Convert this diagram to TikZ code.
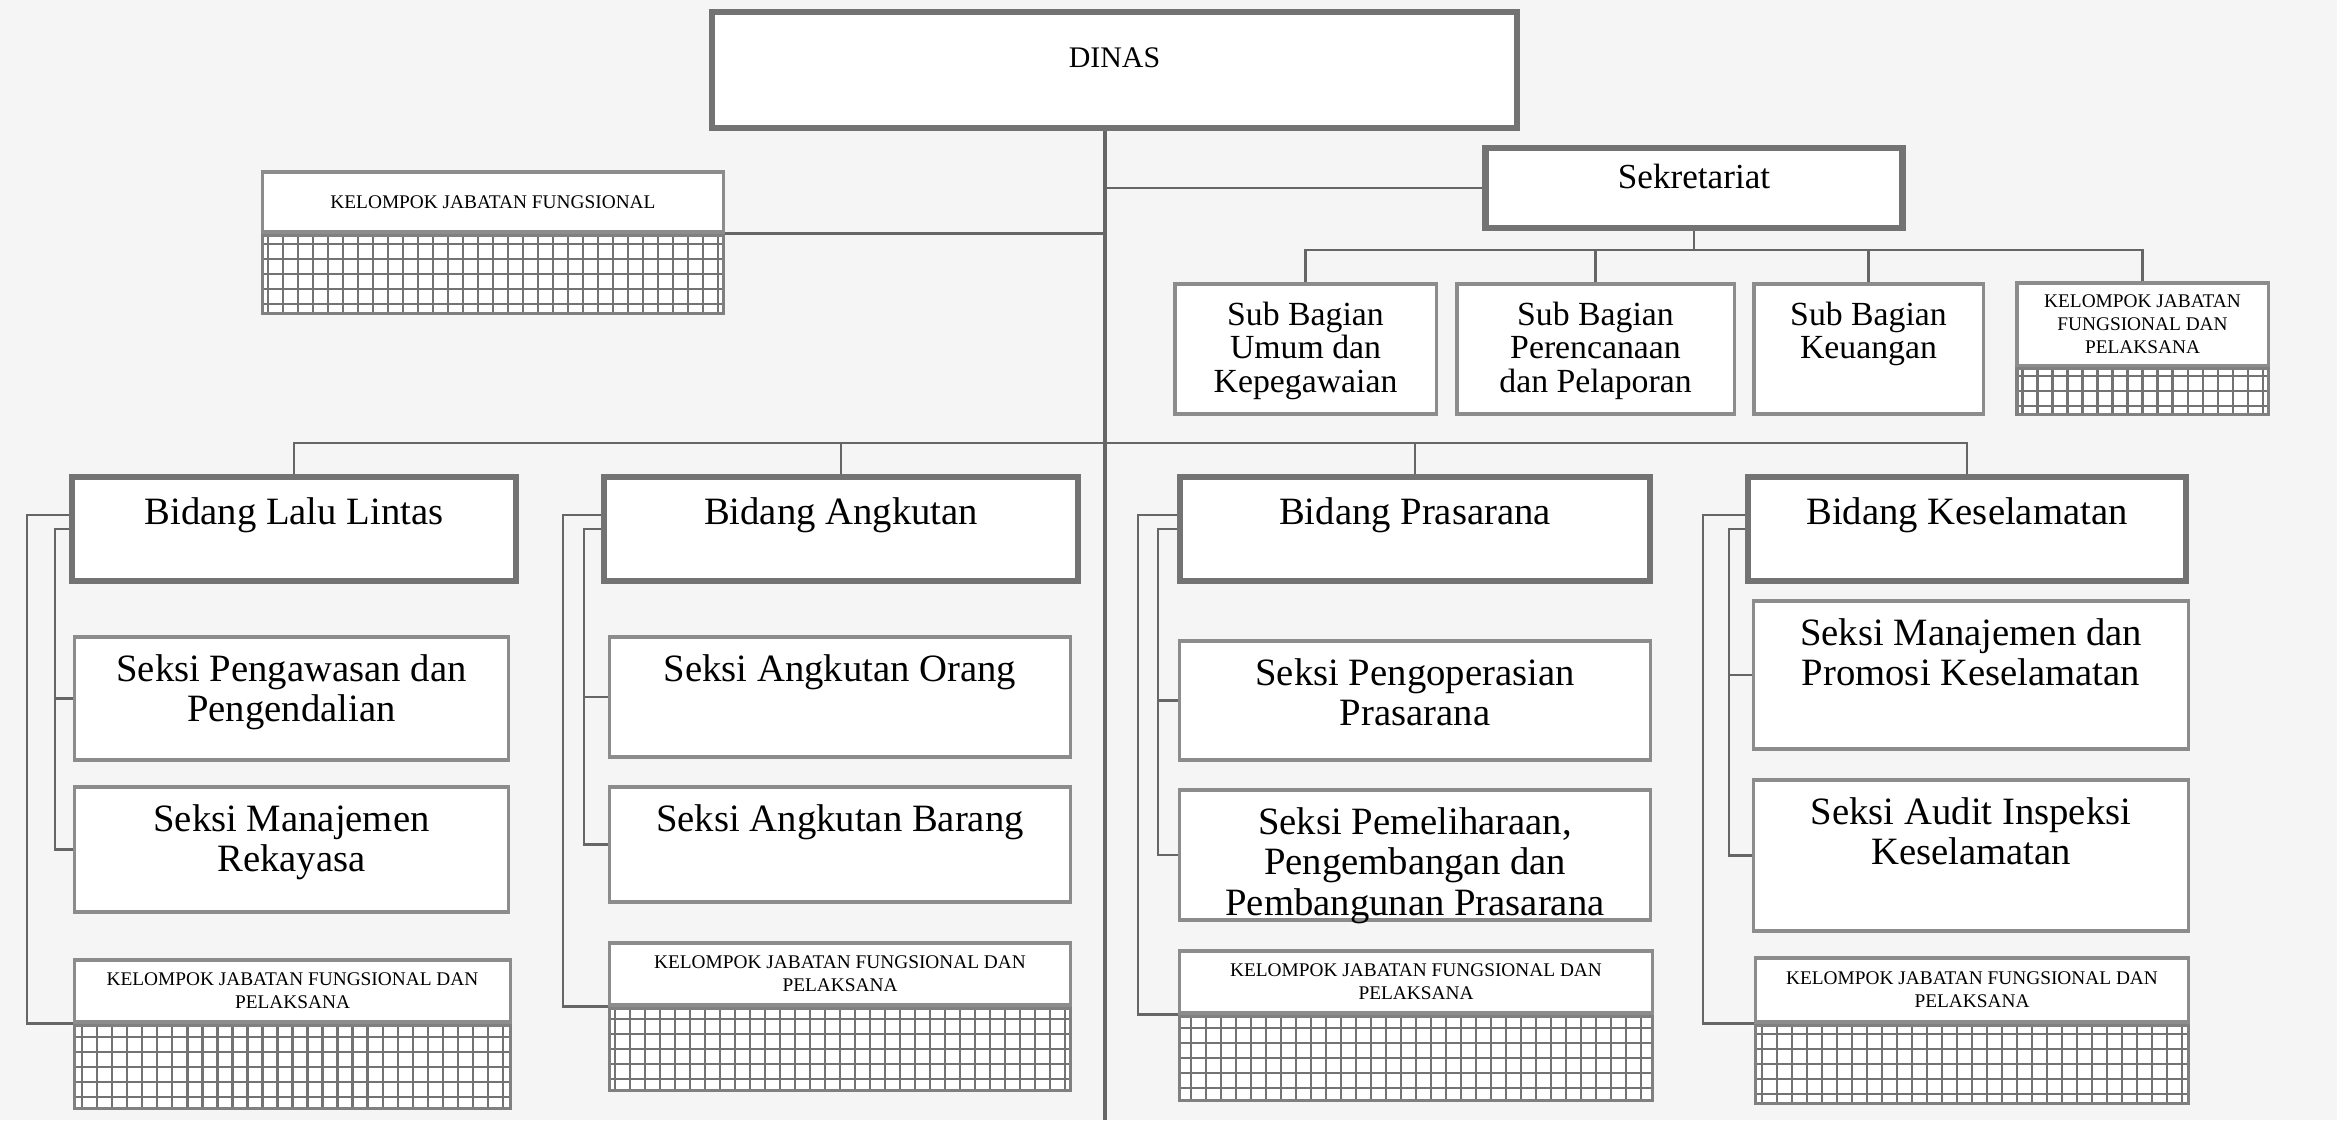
\documentclass[tikz,border=0pt]{standalone}
\usepackage{fontspec}
\setmainfont{Liberation Serif}
\tikzset{
  thickbox/.style={draw=black!55, line width=1.8pt, fill=white},
  thinbox/.style={draw=black!45, line width=0.9pt, fill=white},
  gridbox/.style={draw=black!50, line width=0.9pt, fill=white, anchor=north,
    path picture={\draw[black!55, line width=0.6pt] (path picture bounding box.south west) grid[step=0.15cm] (path picture bounding box.north east);}},
  link/.style={draw=black!60, line width=0.7pt},
  toptext/.style={anchor=north, inner sep=0pt, align=center},
  dinastext/.style={toptext, font=\fontsize{8.5}{9}\selectfont, yshift=-11pt},
  sekrtext/.style={toptext, font=\fontsize{10}{10.5}\selectfont, yshift=-5.2pt},
  subtext/.style={toptext, font=\fontsize{9.6}{9.6}\selectfont, yshift=-5.3pt},
  bidangtext/.style={toptext, font=\fontsize{11}{11.5}\selectfont, yshift=-6.6pt},
  seksitext/.style={toptext, font=\fontsize{11}{11.5}\selectfont, yshift=-5.2pt},
  kjftext/.style={align=center, font=\fontsize{5.5}{6.5}\selectfont},
}
\begin{document}
\begin{tikzpicture}[x=0.01cm,y=-0.01cm]
\fill[black!4] (0,0) rectangle (2337,1120);
\useasboundingbox (0,0) rectangle (2337,1120);

% top level
\node[thickbox, minimum width=8.05cm, minimum height=1.16cm, label={[dinastext]north:DINAS}] (dinas) at (1114.5,70) {};
\node[thickbox, minimum width=4.17cm, minimum height=0.80cm, label={[sekrtext]north:Sekretariat}] (sekr) at (1694,188) {};
\node[thinbox, kjftext, minimum width=4.60cm, minimum height=0.60cm] (kjfa) at (493,202) {KELOMPOK JABATAN FUNGSIONAL};
\node[gridbox, minimum width=4.60cm, minimum height=0.78cm] (ga) at (kjfa.south) {};

% sub bagian
\node[thinbox, minimum width=2.61cm, minimum height=1.30cm, label={[subtext]north:{Sub Bagian\\Umum dan\\Kepegawaian}}] (sbu) at (1305.5,349) {};
\node[thinbox, minimum width=2.77cm, minimum height=1.30cm, label={[subtext]north:{Sub Bagian\\Perencanaan\\dan Pelaporan}}] (sbp) at (1595.5,349) {};
\node[thinbox, minimum width=2.29cm, minimum height=1.30cm, label={[subtext]north:{Sub Bagian\\Keuangan}}] (sbk) at (1868.5,349) {};
\node[thinbox, kjftext, minimum width=2.51cm, minimum height=0.82cm] (kjfb) at (2142.5,324) {KELOMPOK JABATAN\\FUNGSIONAL DAN\\PELAKSANA};
\node[gridbox, minimum width=2.51cm, minimum height=0.46cm] (gb) at (kjfb.south) {};

% bidang
\node[thickbox, minimum width=4.44cm, minimum height=1.04cm, label={[bidangtext]north:Bidang Lalu Lintas}] (ll) at (294,529) {};
\node[thickbox, minimum width=4.74cm, minimum height=1.04cm, label={[bidangtext]north:Bidang Angkutan}] (ang) at (841,529) {};
\node[thickbox, minimum width=4.70cm, minimum height=1.04cm, label={[bidangtext]north:Bidang Prasarana}] (pra) at (1415,529) {};
\node[thickbox, minimum width=4.38cm, minimum height=1.04cm, label={[bidangtext]north:Bidang Keselamatan}] (kes) at (1967,529) {};

% seksi
\node[thinbox, minimum width=4.33cm, minimum height=1.23cm, label={[seksitext]north:{Seksi Pengawasan dan\\Pengendalian}}] (s11) at (291.5,698.5) {};
\node[thinbox, minimum width=4.33cm, minimum height=1.25cm, label={[seksitext]north:{Seksi Manajemen\\Rekayasa}}] (s12) at (291.5,849.5) {};
\node[thinbox, minimum width=4.60cm, minimum height=1.20cm, label={[seksitext]north:{Seksi Angkutan Orang}}] (s21) at (840,697) {};
\node[thinbox, minimum width=4.60cm, minimum height=1.15cm, label={[seksitext]north:{Seksi Angkutan Barang}}] (s22) at (840,844.5) {};
\node[thinbox, minimum width=4.70cm, minimum height=1.19cm, label={[seksitext]north:{Seksi Pengoperasian\\Prasarana}}] (s31) at (1415,700.5) {};
\node[thinbox, minimum width=4.70cm, minimum height=1.30cm, label={[seksitext]north:{Seksi Pemeliharaan,\\Pengembangan dan\\Pembangunan Prasarana}}] (s32) at (1415,855) {};
\node[thinbox, minimum width=4.34cm, minimum height=1.48cm, label={[seksitext]north:{Seksi Manajemen dan\\Promosi Keselamatan}}] (s41) at (1971,675) {};
\node[thinbox, minimum width=4.34cm, minimum height=1.51cm, label={[seksitext]north:{Seksi Audit Inspeksi\\Keselamatan}}] (s42) at (1971,855.5) {};

% kelompok jabatan fungsional per bidang
\node[thinbox, kjftext, minimum width=4.35cm, minimum height=0.62cm] (kjf1) at (292.5,991) {KELOMPOK JABATAN FUNGSIONAL DAN\\PELAKSANA};
\node[gridbox, minimum width=4.35cm, minimum height=0.83cm] (g1) at (kjf1.south) {};
\node[thinbox, kjftext, minimum width=4.60cm, minimum height=0.62cm] (kjf2) at (840,974) {KELOMPOK JABATAN FUNGSIONAL DAN\\PELAKSANA};
\node[gridbox, minimum width=4.60cm, minimum height=0.82cm] (g2) at (kjf2.south) {};
\node[thinbox, kjftext, minimum width=4.72cm, minimum height=0.62cm] (kjf3) at (1416,982) {KELOMPOK JABATAN FUNGSIONAL DAN\\PELAKSANA};
\node[gridbox, minimum width=4.72cm, minimum height=0.84cm] (g3) at (kjf3.south) {};
\node[thinbox, kjftext, minimum width=4.32cm, minimum height=0.64cm] (kjf4) at (1972,990) {KELOMPOK JABATAN FUNGSIONAL DAN\\PELAKSANA};
\node[gridbox, minimum width=4.32cm, minimum height=0.78cm] (g4) at (kjf4.south) {};

% connectors
\coordinate (spine) at (1105,1120);
\coordinate (sbus) at (1694,250);
\coordinate (bbus) at (1105,443);
\draw[link, line width=1pt] (dinas.south -| spine) -- (spine);
\draw[link] (sekr.west) -- (sekr.west -| spine);
\draw[link] (kjfa.south east) -- (kjfa.south east -| spine);
\draw[link] (sekr.south) -- (sbus);
\draw[link] (sbu.north) |- (sbus) -| (kjfb.north);
\draw[link] (sbp.north) -- (sbp.north |- sbus);
\draw[link] (sbk.north) -- (sbk.north |- sbus);
\draw[link] (ll.north) |- (bbus) -| (kes.north);
\draw[link] (ang.north) -- (ang.north |- bbus);
\draw[link] (pra.north) -- (pra.north |- bbus);

% brackets on the left of each bidang
\coordinate (c1o) at (27,0);   \coordinate (c1i) at (55,0);
\coordinate (c2o) at (563,0);  \coordinate (c2i) at (584,0);
\coordinate (c3o) at (1138,0); \coordinate (c3i) at (1158,0);
\coordinate (c4o) at (1703,0); \coordinate (c4i) at (1729,0);
\draw[link] ([yshift=4pt]ll.west) -| (kjf1.south west -| c1o) -- (kjf1.south west);
\draw[link] (ll.west) -| (s12.west -| c1i) -- (s12.west);
\draw[link] (s11.west) -- (s11.west -| c1i);
\draw[link] ([yshift=4pt]ang.west) -| (kjf2.south west -| c2o) -- (kjf2.south west);
\draw[link] (ang.west) -| (s22.west -| c2i) -- (s22.west);
\draw[link] (s21.west) -- (s21.west -| c2i);
\draw[link] ([yshift=4pt]pra.west) -| (kjf3.south west -| c3o) -- (kjf3.south west);
\draw[link] (pra.west) -| (s32.west -| c3i) -- (s32.west);
\draw[link] (s31.west) -- (s31.west -| c3i);
\draw[link] ([yshift=4pt]kes.west) -| (kjf4.south west -| c4o) -- (kjf4.south west);
\draw[link] (kes.west) -| (s42.west -| c4i) -- (s42.west);
\draw[link] (s41.west) -- (s41.west -| c4i);
\end{tikzpicture}
\end{document}
